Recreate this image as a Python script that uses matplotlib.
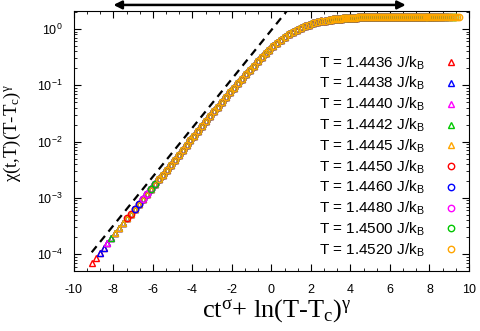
import matplotlib
matplotlib.use("Agg")
import matplotlib.pyplot as plt
from matplotlib.ticker import AutoMinorLocator, LogLocator, NullFormatter
import numpy as np

plt.rcParams['font.family'] = 'Liberation Sans'
plt.rcParams['axes.unicode_minus'] = False
plt.rcParams['mathtext.fontset'] = 'custom'
plt.rcParams['mathtext.rm'] = 'Liberation Serif'
plt.rcParams['mathtext.it'] = 'Liberation Serif:italic'
plt.rcParams['mathtext.sf'] = 'Liberation Sans'

# scaling-collapse curve (x = ct^sigma + ln(T-Tc)^gamma)
curve_x = [-9.1, -8.9, -8.7, -8.5, -8.3, -8.1, -7.9, -7.7, -7.5, -7.3, -7.1, -6.9, -6.7, -6.5,
           -6.3, -6.1, -5.9, -5.7, -5.5, -5.3, -5.1, -4.9, -4.7, -4.5, -4.3, -4.1, -3.9, -3.7,
           -3.5, -3.3, -3.1, -2.9, -2.7, -2.5, -2.3, -2.1, -1.9, -1.7, -1.5, -1.3, -1.1, -0.9,
           -0.7, -0.5, -0.3, -0.1, 0.1, 0.3, 0.5, 0.7, 0.9, 1.1, 1.3, 1.5, 1.7, 1.9, 2.1, 2.3,
           2.5, 2.7, 2.9, 3.0, 3.1, 3.2, 3.3, 3.4, 3.5, 3.6, 3.7, 3.8, 3.9, 4.0, 4.1, 4.2, 4.3,
           4.4, 4.5, 4.6, 4.7, 4.8, 4.9, 5.0, 5.1, 5.2, 5.3, 5.4, 5.5, 5.6, 5.7, 5.8, 5.9, 6.0,
           6.1, 6.2, 6.3, 6.4, 6.5, 6.6, 6.7, 6.8, 6.9, 7.0, 7.1, 7.2, 7.3, 7.4, 7.5, 7.6, 7.7,
           7.8, 7.9, 8.0, 8.1, 8.2, 8.3, 8.4, 8.5, 8.6, 8.7, 8.8, 8.9, 9.0, 9.1, 9.2, 9.3, 9.4, 9.5]
curve_y = [7.1e-5, 8.7e-5, 1.06e-4, 1.30e-4, 1.58e-4, 1.94e-4, 2.36e-4, 2.89e-4, 3.53e-4,
           4.31e-4, 5.26e-4, 6.43e-4, 7.85e-4, 9.59e-4, 1.17e-3, 1.43e-3, 1.75e-3, 2.13e-3,
           2.60e-3, 3.18e-3, 3.88e-3, 4.74e-3, 5.78e-3, 7.05e-3, 8.61e-3, 1.050e-2, 1.281e-2,
           1.562e-2, 1.904e-2, 2.319e-2, 2.823e-2, 3.436e-2, 4.178e-2, 5.073e-2, 6.154e-2,
           7.454e-2, 9.018e-2, 0.1088, 0.1310, 0.1572, 0.1880, 0.2241, 0.2657, 0.3133, 0.3673,
           0.4275, 0.4938, 0.5657, 0.6421, 0.7221, 0.8040, 0.8866, 0.9677, 1.046, 1.120, 1.190,
           1.253, 1.310, 1.361, 1.406, 1.444, 1.462, 1.478, 1.493, 1.506, 1.519, 1.530, 1.541,
           1.551, 1.560, 1.568, 1.575, 1.582, 1.588, 1.594, 1.599, 1.604, 1.608, 1.612, 1.616,
           1.619, 1.622, 1.624, 1.627, 1.629, 1.631, 1.633, 1.634, 1.636, 1.637, 1.638, 1.640,
           1.641, 1.641, 1.642, 1.643, 1.644, 1.644, 1.645, 1.645, 1.645, 1.646, 1.646, 1.646,
           1.646, 1.647, 1.647, 1.647, 1.647, 1.647, 1.647, 1.648, 1.648, 1.648, 1.648, 1.648,
           1.648, 1.648, 1.648, 1.648, 1.648, 1.648, 1.648, 1.648, 1.648, 1.648, 1.648]

temps = ["1.4436", "1.4438", "1.4440", "1.4442", "1.4445",
         "1.4450", "1.4460", "1.4480", "1.4500", "1.4520"]
x_start = [-9.1, -8.7, -8.3, -8.1, -7.9, -7.3, -6.9, -6.5, -6.1, -5.7]
x_end = [7.7, 7.9, 8.1, 8.3, 8.5, 8.7, 8.9, 9.1, 9.3, 9.5]
colors = ['#ff0000', '#0000ff', '#ff00ff', '#00c800', '#ffa500',
          '#ff0000', '#0000ff', '#ff00ff', '#00c800', '#ffa500']
markers = ['^'] * 5 + ['o'] * 5

# dashed guide line
guide_x = [-9.1, 1.0]
guide_y = [1.08e-4, 2.6]

fig = plt.figure(figsize=(4.8, 3.31), dpi=100)
ax = fig.add_axes([0.154, 0.181, 0.823, 0.786])

cx = np.array(curve_x)
cy = np.array(curve_y)
for i in range(len(temps)):
    sel = (cx >= x_start[i] - 1e-6) & (cx <= x_end[i] + 1e-6)
    ax.plot(cx[sel], cy[sel], linestyle='none', marker=markers[i],
            markersize=5.0 if markers[i] == '^' else 4.6,
            markerfacecolor='none', markeredgecolor=colors[i], markeredgewidth=1.0,
            label="T = " + temps[i] + r" J/k$_{\mathsf{B}}$")

ax.plot(guide_x, guide_y, color='black', linestyle=(0, (3.5, 2.5)), linewidth=1.6)

ax.set_yscale('log')
ax.set_xlim(-10, 10)
ax.set_ylim(10 ** -4.3, 10 ** 0.32)
ax.set_xticks(range(-10, 11, 2))
ax.xaxis.set_minor_locator(AutoMinorLocator(3))
yt = [1e-4, 1e-3, 1e-2, 1e-1, 1e0]
ax.set_yticks(yt)
ax.set_yticklabels([r"$\mathsf{10^{%d}}$" % p for p in [-4, -3, -2, -1, 0]])
ax.yaxis.set_minor_locator(LogLocator(base=10, subs=np.arange(2, 10)))
ax.yaxis.set_minor_formatter(NullFormatter())
ax.tick_params(which='both', direction='in', top=True, right=True, labelsize=9)
ax.tick_params(which='major', length=5, width=0.8)
ax.tick_params(which='minor', length=2.5, width=0.6)
ax.tick_params(axis='x', pad=9)
ax.tick_params(axis='y', pad=8)

ax.set_xlabel(r"ct$^{\mathrm{\sigma}}$+ ln(T-T$_{\mathrm{c}}$)$^{\mathrm{\gamma}}$",
              family='Liberation Serif', fontsize=19)
ax.set_ylabel(r"$\mathrm{\chi}$(t,T)(T-T$_{\mathrm{c}}$)$^{\mathrm{\gamma}}$",
              family='Liberation Serif', fontsize=13.5)
ax.xaxis.set_label_coords(0.513, -0.1)
ax.yaxis.set_label_coords(-0.13, 0.53)

ax.legend(loc='center right', bbox_to_anchor=(1.004, 0.44), frameon=False, markerfirst=False,
          fontsize=11, handlelength=1.0, handletextpad=1.2, labelspacing=0.24, borderpad=0.3)

ax.annotate('', xy=(-8.0, 1.023), xytext=(6.8, 1.023), xycoords=ax.get_xaxis_transform(),
            arrowprops=dict(arrowstyle='<|-|>', lw=1.8, color='black', mutation_scale=12,
                            shrinkA=0, shrinkB=0),
            annotation_clip=False)

fig.savefig("out.png", dpi=100)
